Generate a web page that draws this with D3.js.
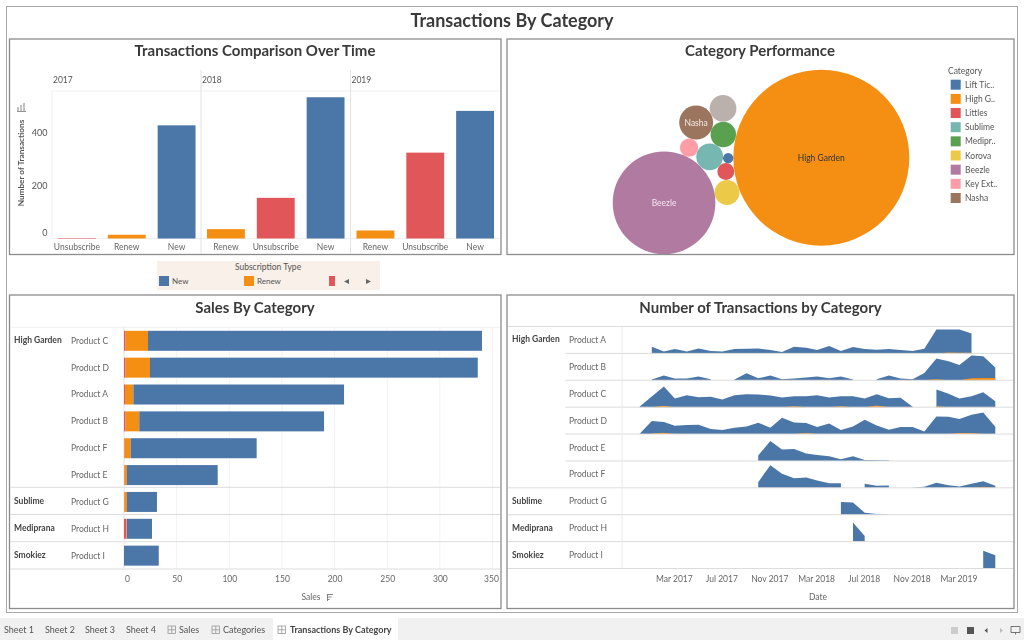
<!DOCTYPE html>
<html><head><meta charset="utf-8">
<style>
html,body{margin:0;padding:0;background:#fff}
svg{display:block;filter:blur(0.35px)}
text{font-family:Lato,"Open Sans",sans-serif;fill:#666}
.axis .domain{display:none}
.axis line{display:none}
</style>
<script src="https://cdn.jsdelivr.net/npm/d3@7/dist/d3.min.js"></script>
</head><body><svg id="c" width="1024" height="640"></svg>
<script>
// ---------- data ----------
const years = ["2017","2018","2019"];
const subTypes2017 = ["Unsubscribe","Renew","New"];
const subTypes2018 = ["Renew","Unsubscribe","New"];
const subTypes2019 = ["Renew","Unsubscribe","New"];
const txn2017 = [2,14,423];
const txn2018 = [35,152,528];
const txn2019 = [30,321,477];

const bubbleNames = ["High Garden","Littles","Korova","Lift Ticket","Sublime","Beezle","Mediprana","Key Extracts","Nasha","Smokiez"];
const bubbleValues = [1293,12,26,4.4,30,440,27,14,48,30];
const legendCategories = ["Lift Tic..","High G..","Littles","Sublime","Medipr..","Korova","Beezle","Key Ext..","Nasha"];

const salesCategories = ["High Garden","","","","","","Sublime","Mediprana","Smokiez"];
const salesProducts = ["Product C","Product D","Product A","Product B","Product F","Product E","Product G","Product H","Product I"];
const salesUnsub = [1.5,1.5,1,1.5,0.5,0.5,0.3,2.3,0];
const salesRenew = [21.3,23.2,7.9,13,5.8,2.3,2.5,0.4,0];
const salesNew = [317.2,311.3,200.1,175.5,119.7,86.2,28.5,23.9,33];
const salesTicks = [0,50,100,150,200,250,300,350];

const areaCategories = ["High Garden","","","","","","Sublime","Mediprana","Smokiez"];
const areaProducts = ["Product A","Product B","Product C","Product D","Product E","Product F","Product G","Product H","Product I"];
const n = null;
const productA = [n,20,6,13,6,15,7,6,13,14,15,10,4,20,17,10,22,7,19,13,11,13,10,7,14,72,72,72,60,n,n];
const productB = [n,2,14,5,5,11,3,n,2,21,6,14,3,5,8,11,6,11,2,n,3,14,5,3,22,65,57,46,74,72,38];
const productC = [2,32,62,26,36,30,31,23,36,39,38,35,29,33,33,36,29,33,33,26,39,27,28,1,n,53,40,26,33,45,18];
const productD = [1,39,36,25,27,28,15,12,19,23,34,19,49,35,33,21,32,12,23,43,26,13,21,21,8,53,52,45,58,65,22];
const productE = [n,n,n,n,n,n,n,n,n,n,16,60,34,36,22,18,14,5,14,3,2,1,n,n,n,n,n,n,n,n,n];
const productF = [n,n,n,n,n,n,n,n,n,n,17,68,42,29,31,22,14,14,n,12,6,7,n,1,3,15,8,4,12,20,6];
const productG = [n,n,n,n,n,n,n,n,n,n,n,n,n,n,n,n,n,38,37,6,2,1,n,n,n,n,n,n,n,n,n];
const productH = [n,n,n,n,n,n,n,n,n,n,n,n,n,n,n,n,n,n,57,17,n,n,n,n,n,n,n,n,n,n,n];
const productI = [n,n,n,n,n,n,n,n,n,n,n,n,n,n,n,n,n,n,n,n,n,n,n,n,n,n,n,n,n,53,40];
const renewA = [n,n,n,n,n,n,n,n,n,n,n,n,n,n,n,n,n,n,n,n,n,n,n,n,n,0,3,2,2,n,n];
const renewB = [n,n,n,n,n,n,n,n,n,n,n,n,n,n,n,n,n,n,n,n,n,n,n,n,0,3,0,0,6,7,7];
const renewC = [n,0,4,0,n,n,n,n,n,n,n,n,0,3,0,n,0,3,0,0,5,0,n,n,n,3,0,n,n,n,n];
const renewD = [n,2,4,0,n,n,n,n,n,n,n,n,n,0,3,0,n,n,n,n,n,n,n,n,n,n,0,3,3,0,n];
const renewF = [n,n,n,n,n,n,n,n,n,n,n,n,n,n,n,n,n,n,n,n,n,n,n,n,n,n,n,n,0,3,0];
const dateTickLabels = ["2017-03","2017-07","2017-11","2018-03","2018-07","2018-11","2019-03"];

// ---------- style ----------
const BLUE="#4a76a8", ORANGE="#f48f14", RED="#e15759";
const bubbleColors = {"High Garden":ORANGE,"Littles":RED,"Korova":"#edc948","Lift Ticket":BLUE,"Sublime":"#76b7b2","Beezle":"#b07aa1","Mediprana":"#59a14f","Key Extracts":"#ff9da7","Nasha":"#9c755f","Smokiez":"#bab0ac"};
const legendColors = [BLUE,ORANGE,RED,"#76b7b2","#59a14f","#edc948","#b07aa1","#ff9da7","#9c755f"];
const GRID="#ececec", SEP="#dcdcdc";

const svg = d3.select("#c");
const txt=(x,y,s,o={})=>svg.append("text").attr("x",x).attr("y",y).text(s)
  .attr("text-anchor",o.a||"start").attr("font-size",o.s||9).attr("font-weight",o.w||400)
  .style("fill",o.c||"#666");
const line=(x1,y1,x2,y2,c=GRID,w=1)=>svg.append("line").attr("x1",x1).attr("y1",y1).attr("x2",x2).attr("y2",y2).attr("stroke",c).attr("stroke-width",w);
const frame=(x,y,w,h,c="#8c8c8c",sw=1.3)=>svg.append("rect").attr("x",x).attr("y",y).attr("width",w).attr("height",h).attr("fill","none").attr("stroke",c).attr("stroke-width",sw);

// ---------- frames & titles ----------
frame(6.5,6.5,1011,606,"#a8a8a8",1);
frame(9.5,39,491.5,215.5); frame(507,39,507,215.5);
frame(9.5,295,491.5,313.5); frame(507,295,507,313.5);
const TITLE="#3a3a3a";
txt(512,27,"Transactions By Category",{a:"middle",s:18,w:700,c:TITLE});
txt(255,56,"Transactions Comparison Over Time",{a:"middle",s:15,w:700,c:TITLE});
txt(760,56,"Category Performance",{a:"middle",s:15,w:700,c:TITLE});
txt(255,313,"Sales By Category",{a:"middle",s:15,w:700,c:TITLE});
txt(760.5,313,"Number of Transactions by Category",{a:"middle",s:15,w:700,c:TITLE});

// ---------- panel 1: faceted bars ----------
const yT = d3.scaleLinear().domain([0,400]).range([238.5,131.5]);
const facetStart=[52,201,350.5], facetW=149.5;
const colorOf={New:BLUE,Renew:ORANGE,Unsubscribe:RED};
line(52,91,500,91,"#efefef");
line(52,238.5,500,238.5,"#efefef");
line(52,91,52,238.5,"#efefef");
[201,350.5].forEach(x=>line(x,70,x,254,"#e2e2e2"));
const yAxis=svg.append("g").attr("class","axis").attr("transform","translate(47.5,0)")
  .call(d3.axisLeft(yT).tickValues([0,200,400]).tickSize(0).tickPadding(0));
yAxis.selectAll("text").style("font-size","9px").style("font-family","Lato").style("fill","#555")
  .attr("dy",(d)=>d===0?"-0.3em":d===200?"0.4em":"0.42em");
[[subTypes2017,txn2017],[subTypes2018,txn2018],[subTypes2019,txn2019]].forEach(([cats,vals],i)=>{
  const x=d3.scaleBand().domain(cats).range([facetStart[i],facetStart[i]+facetW]).paddingInner(0.24).paddingOuter(0.12);
  txt(facetStart[i]+1,82.5,years[i],{s:8.5,c:"#555"});
  svg.append("g").selectAll("rect").data(cats).join("rect")
    .attr("x",d=>x(d)).attr("width",x.bandwidth())
    .attr("y",(d,k)=>yT(vals[k])).attr("height",(d,k)=>yT(0)-yT(vals[k]))
    .attr("fill",d=>colorOf[d]);
  const ax=svg.append("g").attr("class","axis").attr("transform","translate(0,240.5)")
    .call(d3.axisBottom(x).tickSize(0).tickPadding(3));
  ax.selectAll("text").style("font-size","8.5px").style("font-family","Lato").style("fill","#666");
});
svg.append("text").attr("transform","translate(24,163) rotate(-90)").attr("text-anchor","middle")
  .attr("font-size",8.2).attr("font-weight",700).style("fill","#555").text("Number of Transactions");
// sort icon (axis)
[[0,4],[3,6],[6,8]].forEach(([o,l])=>line(18+o,111-l,18+o,111,"#777",0.9));
line(17,111.5,26,111.5,"#777",0.8);

// legend strip
svg.append("rect").attr("x",157).attr("y",261).attr("width",223).attr("height",29).attr("fill","#f8f0e9");
txt(268,270,"Subscription Type",{a:"middle",s:8.5,c:"#555"});
[["New",159,BLUE,10],["Renew",244,ORANGE,10],["",329,RED,6]].forEach(([t,x,c,w])=>{
  svg.append("rect").attr("x",x).attr("y",276).attr("width",w).attr("height",10).attr("fill",c);
  if(t) txt(x+13,283.5,t,{s:8,c:"#555"});
});
svg.append("path").attr("d","M344,281.5l5,-2.5v5z M366,279v5l5,-2.5z").attr("fill","#666");

// ---------- panel 2: packed bubbles (radii from values, tangency chain) ----------
const rS=d3.scaleSqrt().domain([0,1293]).range([0,88]);
const placed={};
bubbleNames.forEach((name,i)=>placed[name]={name,r:rS(bubbleValues[i])});
function touch(cName,aName,bName,side){
  const a=placed[aName],b=placed[bName],c=placed[cName];
  const dx=b.x-a.x,dy=b.y-a.y,d=Math.hypot(dx,dy),da=a.r+c.r,db=b.r+c.r;
  const t=(d*d+da*da-db*db)/(2*d),h=Math.sqrt(Math.max(0,da*da-t*t));
  const ux=dx/d,uy=dy/d;
  c.x=a.x+t*ux-side*h*uy; c.y=a.y+t*uy+side*h*ux;
}
const hg=placed["High Garden"]; hg.x=821.3; hg.y=157.7;
const seed=Math.atan2(14,-96.3), lit=placed["Littles"];
lit.x=hg.x+(hg.r+lit.r)*Math.cos(seed); lit.y=hg.y+(hg.r+lit.r)*Math.sin(seed);
touch("Korova","High Garden","Littles",-1);
touch("Lift Ticket","High Garden","Littles",1);
touch("Sublime","Lift Ticket","Littles",1);
touch("Beezle","Korova","Sublime",-1);
touch("Mediprana","High Garden","Sublime",1);
touch("Key Extracts","Sublime","Beezle",1);
touch("Nasha","Mediprana","Key Extracts",1);
touch("Smokiez","Mediprana","Nasha",1);
const clip=svg.append("clipPath").attr("id","p2").append("rect").attr("x",507).attr("y",39).attr("width",507).attr("height",215.5);
svg.append("g").attr("clip-path","url(#p2)").selectAll("circle").data(Object.values(placed)).join("circle")
  .attr("cx",d=>d.x).attr("cy",d=>d.y).attr("r",d=>d.r).attr("fill",d=>bubbleColors[d.name]);
[["High Garden","#333"],["Beezle","#f5e6f0"],["Nasha","#f3ece6"]].forEach(([nm,c])=>{
  txt(placed[nm].x,placed[nm].y+3,nm,{a:"middle",s:8.5,c});
});
txt(948,73.5,"Category",{s:8.5,c:"#555"});
const legY=d3.scalePoint().domain(legendCategories).range([84.7,198]);
legendCategories.forEach((c,i)=>{
  svg.append("rect").attr("x",950.7).attr("y",legY(c)-5).attr("width",10).attr("height",10).attr("fill",legendColors[i]);
  txt(965,legY(c)+3,c,{s:8.5,c:"#555"});
});

// ---------- panel 3: stacked bars ----------
const xS=d3.scaleLinear().domain([0,350]).range([124,492.5]);
const rowY=d3.scaleBand().domain(salesProducts).range([327.3,569]);
salesTicks.forEach(t=>line(xS(t),327,xS(t),569,"#f3f3f3"));
[327.3,487.3,514.5,541.7,569].forEach((y,i)=>line(10,y,500,y,i===0?"#f0f0f0":SEP));
line(124,327,124,569,"#e8e8e8");
const stack=d3.stack().keys(["u","r","n"])(salesProducts.map((p,i)=>({p,u:salesUnsub[i],r:salesRenew[i],n:salesNew[i]})));
const stackColors=[RED,ORANGE,BLUE];
svg.append("g").selectAll("g").data(stack).join("g").attr("fill",(d,i)=>stackColors[i])
  .selectAll("rect").data(d=>d).join("rect")
  .attr("x",d=>xS(d[0])).attr("width",d=>xS(d[1])-xS(d[0]))
  .attr("y",d=>rowY(d.data.p)+3.5).attr("height",20);
salesProducts.forEach((p,i)=>{
  const y=rowY(p)+rowY.bandwidth()/2+3;
  if(salesCategories[i]) txt(14,y-0.5,salesCategories[i],{s:8.5,w:700,c:"#444"});
  txt(71,y,p,{s:8.5,c:"#666"});
});
const xAx=svg.append("g").attr("class","axis").attr("transform","translate(0,573)")
  .call(d3.axisBottom(xS).tickValues(salesTicks).tickSize(0).tickPadding(3));
xAx.selectAll("text").style("font-size","8.5px").style("font-family","Lato").style("fill","#666")
  .attr("dx",d=>d===0?"3":d===350?"-1.5":"0");
txt(311,600,"Sales",{a:"middle",s:8.5,c:"#666"});
line(327.5,594,327.5,601,"#777",0.9);
line(327.5,594.5,333,594.5,"#777",0.9);line(327.5,597,331.5,597,"#777",0.9);line(327.5,599.5,329.5,599.5,"#777",0.9);

// ---------- panel 4: small-multiple areas ----------
const t0=new Date(Date.UTC(2016,11,1));
const months=d3.utcMonth.range(t0,new Date(Date.UTC(2019,6,1)));
const xD=d3.scaleUtc().domain([months[0],months[months.length-1]]).range([639.7,995.3]);
const rowA=d3.scaleBand().domain(areaProducts).range([326.5,568.5]);
const hS=d3.scaleLinear().domain([0,81]).range([0,27]);
const newSeries=[productA,productB,productC,productD,productE,productF,productG,productH,productI];
const renewSeries=[renewA,renewB,renewC,renewD,null,renewF,null,null,null];
areaProducts.forEach((p,i)=>{
  const base=rowA(p)+rowA.bandwidth();
  const g=svg.append("g");
  const area=d3.area().defined(d=>d!=null).x((d,k)=>xD(months[k])).y0(base).y1(d=>base-hS(d));
  g.append("path").attr("d",area(newSeries[i])).attr("fill",BLUE);
  if(renewSeries[i]) g.append("path").attr("d",area(renewSeries[i])).attr("fill",ORANGE);
});
[326.5,...areaProducts.map(p=>rowA(p)+rowA.bandwidth())].forEach((y,i)=>{
  const sep=(i===0||i>=6);
  line(sep?508:565,y,1013,y,SEP);
});
line(622,327,622,568.5,"#e8e8e8");
areaProducts.forEach((p,i)=>{
  const y=rowA(p)+rowA.bandwidth()/2+3;
  if(areaCategories[i]) txt(512,y-0.5,areaCategories[i],{s:8.5,w:700,c:"#444"});
  txt(569,y,p,{s:8.5,c:"#666"});
});
const dTicks=dateTickLabels.map(s=>d3.utcParse("%Y-%m")(s));
const dAx=svg.append("g").attr("class","axis").attr("transform","translate(-1,573)")
  .call(d3.axisBottom(xD).tickValues(dTicks).tickFormat(d3.utcFormat("%b %Y")).tickSize(0).tickPadding(3));
dAx.selectAll("text").style("font-size","8.5px").style("font-family","Lato").style("fill","#666");
txt(818,600,"Date",{a:"middle",s:8.5,c:"#666"});

// ---------- footer tabs ----------
svg.append("rect").attr("x",0).attr("y",618).attr("width",1024).attr("height",22).attr("fill","#f1f1f1");
svg.append("rect").attr("x",273).attr("y",618).attr("width",125).attr("height",22).attr("fill","#fff");
const sheetIcon=(x)=>{const g=svg.append("g").attr("fill","none").attr("stroke","#999").attr("stroke-width",0.8);
  g.append("rect").attr("x",x).attr("y",626).attr("width",7.5).attr("height",7.5);
  g.append("path").attr("d",`M${x+3.75},626v7.5M${x},629.75h7.5`);};
[["Sheet 1",4],["Sheet 2",45],["Sheet 3",85],["Sheet 4",126],["Sales",179],["Categories",223]].forEach(([t,x])=>txt(x,633,t,{s:9,c:"#555"}));
txt(290,633,"Transactions By Category",{s:9,w:700,c:"#444"});
[168,212,278].forEach(sheetIcon);
svg.append("rect").attr("x",951).attr("y",627).attr("width",7).attr("height",7).attr("fill","#ccc");
svg.append("rect").attr("x",967).attr("y",627).attr("width",7).attr("height",7).attr("fill","#555");
svg.append("path").attr("d","M984.5,630.5l3,-2.5v5z").attr("fill","#555");
svg.append("path").attr("d","M1000,628l3,2.5l-3,2.5z").attr("fill","#bbb");
svg.append("path").attr("d","M1011,626.5h9v6h-9z M1015.5,632.5v2").attr("fill","none").attr("stroke","#666").attr("stroke-width",0.9);
</script></body></html>
